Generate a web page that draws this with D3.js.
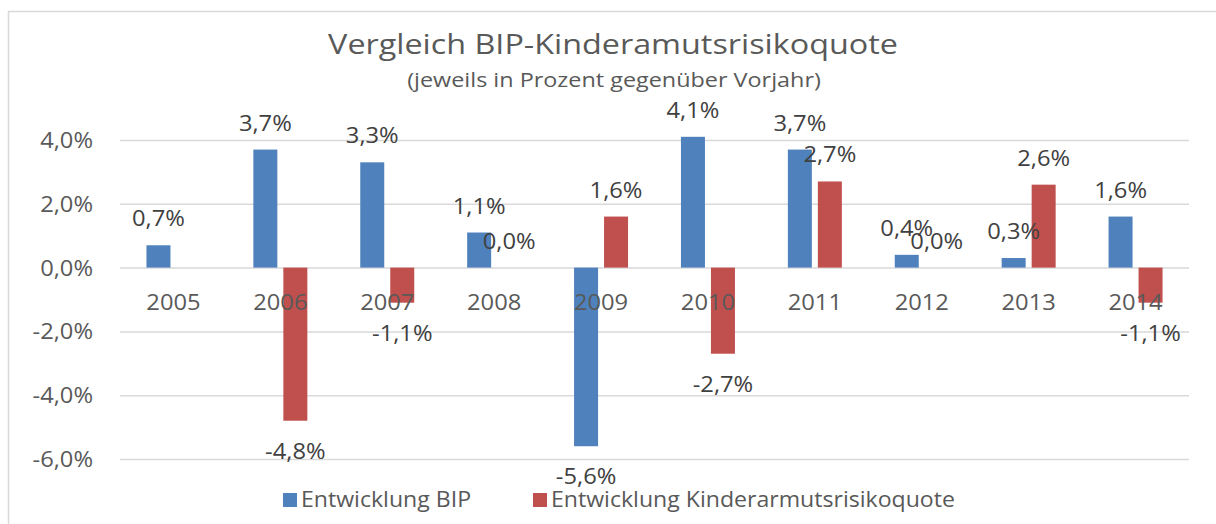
<!doctype html>
<html>
<head>
<meta charset="utf-8">
<script src="https://d3js.org/d3.v7.min.js"></script>
<style>
  body { margin: 0; background: #fff; }
  svg text { font-family: "Open Sans", sans-serif; }
</style>
</head>
<body>
<svg width="1216" height="524"></svg>
<script>
  // data
  var years = ["2005","2006","2007","2008","2009","2010","2011","2012","2013","2014"];
  var bip = [0.7, 3.7, 3.3, 1.1, -5.6, 4.1, 3.7, 0.4, 0.3, 1.6];
  var kinder = [null, -4.8, -1.1, 0.0, 1.6, -2.7, 2.7, 0.0, 2.6, -1.1];
  var seriesNames = ["Entwicklung BIP", "Entwicklung Kinderarmutsrisikoquote"];
  var yTicks = [-6, -4, -2, 0, 2, 4];

  var colors = ["#4F81BD", "#C0504D"];
  var svg = d3.select("svg");
  var SX = 1.13; // reference text is a bit wider than Open Sans

  var de = d3.formatLocale({decimal: ",", thousands: ".", grouping: [3], currency: ["", "€"], minus: "-"});
  var fmt = function(v){ return de.format(".1f")(v) + "%"; };

  // place text at (x,y) with a slight horizontal stretch
  function put(sel, fx, fy, sx) {
    sel.attr("transform", function(d, i){
      return "translate(" + fx(d, i) + "," + fy(d, i) + ") scale(" + (sx || SX) + ",1)";
    });
  }

  // chart frame
  svg.append("rect")
    .attr("x", 8.5).attr("y", 11.5)
    .attr("width", 1240).attr("height", 540)
    .attr("fill", "none").attr("stroke", "#D9D9D9").attr("stroke-width", 1.5);

  var x = d3.scaleBand().domain(years).range([120, 1189])
    .paddingInner(0.495).paddingOuter(0.2475);
  var xs = d3.scaleBand().domain([0, 1]).range([0, x.bandwidth()]).paddingInner(0.2);
  var y = d3.scaleLinear().domain([-6, 4]).range([459, 140]);

  // gridlines + y labels
  var yAxis = svg.append("g")
    .attr("transform", "translate(120,0)")
    .call(d3.axisLeft(y).tickValues(yTicks).tickSize(-1069).tickFormat(fmt).tickPadding(27));
  yAxis.select(".domain").remove();
  yAxis.selectAll("line").attr("stroke", "#D9D9D9").attr("stroke-width", 1.5);
  yAxis.selectAll("text").attr("fill", "#595959").style("font-size", "21px")
    .attr("x", null).attr("dy", "0.36em").style("font-family", "'Open Sans', sans-serif");
  put(yAxis.selectAll("text"), function(){ return -27; }, function(){ return 0; });

  var rows = [];
  years.forEach(function(yr, i){
    rows.push({year: yr, s: 0, v: bip[i]});
    if (kinder[i] !== null) rows.push({year: yr, s: 1, v: kinder[i]});
  });

  svg.append("g").selectAll("rect")
    .data(rows).enter().append("rect")
    .attr("x", function(d){ return x(d.year) + xs(d.s); })
    .attr("y", function(d){ return y(Math.max(0, d.v)); })
    .attr("width", xs.bandwidth())
    .attr("height", function(d){ return Math.abs(y(d.v) - y(0)); })
    .attr("fill", function(d){ return colors[d.s]; });

  // category labels sit just below the zero line
  var cat = svg.append("g").selectAll("text")
    .data(years).enter().append("text")
    .attr("text-anchor", "middle")
    .attr("fill", "#595959").style("font-size", "21px")
    .text(function(d){ return d; });
  put(cat, function(d){ return x(d) + x.bandwidth() / 2; }, function(){ return 310; });

  // data labels
  var lab = svg.append("g").selectAll("text")
    .data(rows).enter().append("text")
    .attr("text-anchor", "middle")
    .attr("fill", "#404040").style("font-size", "21px")
    .text(function(d){ return fmt(d.v); });
  put(lab, function(d){ return x(d.year) + xs(d.s) + xs.bandwidth() / 2; },
      function(d){ return d.v >= 0 ? y(d.v) - 19 : y(d.v) + 38; });

  // title
  put(svg.append("text").datum(0).attr("text-anchor", "middle")
    .attr("fill", "#595959").style("font-size", "28px")
    .text("Vergleich BIP-Kinderamutsrisikoquote"),
    function(){ return 613; }, function(){ return 54; }, 1.155);
  put(svg.append("text").datum(0).attr("text-anchor", "middle")
    .attr("fill", "#595959").style("font-size", "20px")
    .text("(jeweils in Prozent gegenüber Vorjahr)"),
    function(){ return 614; }, function(){ return 87; }, 1.17);

  // legend
  var legX = [283, 533];
  var leg = svg.append("g").selectAll("g")
    .data(seriesNames).enter().append("g")
    .attr("transform", function(d, i){ return "translate(" + legX[i] + ",493)"; });
  leg.append("rect").attr("width", 14).attr("height", 14)
    .attr("fill", function(d, i){ return colors[i]; });
  put(leg.append("text")
    .attr("fill", "#595959").style("font-size", "21px")
    .text(function(d){ return d; }),
    function(){ return 18; }, function(){ return 14; }, 1.1);
</script>
</body>
</html>
